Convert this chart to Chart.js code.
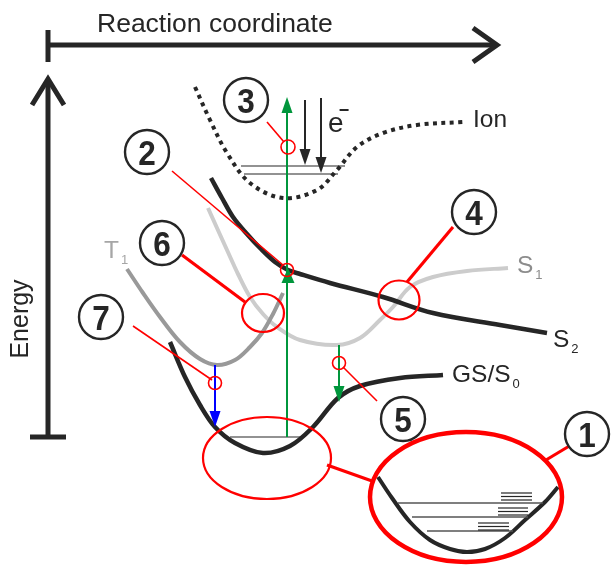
<!DOCTYPE html>
<html><head><meta charset="utf-8">
<script src="https://cdn.jsdelivr.net/npm/chart.js@4"></script>
<style>html,body{margin:0;padding:0;background:#fff;overflow:hidden}canvas{display:block}</style>
</head><body>
<canvas id="c" width="611" height="565"></canvas>
<script>
// ---- potential energy curves (reaction coordinate, energy; energy axis points down) ----
const groundState = [[170,342],[185,377],[200,405],[215,427],[235,443],[263,453],[290,446],[313,427],[338,398],[360,386],[400,378],[443,375]];
const tripletT1   = [[127,269],[143,293],[160,317],[180,342],[200,359],[217,365],[235,360],[250,347],[262,333],[273,314],[283,293]];
const singletS1   = [[208,208],[217,228],[227,250],[238,274],[250,297],[263,314],[277,327],[300,340],[337,345],[360,338],[380,320],[393,307],[410,287],[433,277],[467,271],[508,268]];
const singletS2   = [[211,178],[222,198],[233,217],[247,234],[260,248],[275,262],[288,270],[300,274],[330,283],[383,297],[433,313],[500,325],[547,333]];
const ionCurve    = [[195,87],[210,120],[227,153],[250,183],[283,198],[317,190],[337,170],[357,147],[383,133],[417,125],[463,122]];
const zoomedWell  = [[378,477],[392,498],[410,522],[430,540],[450,549],[467,552],[485,549],[505,538],[525,520],[545,502],[558,487]];

// ---- vibrational levels [x start, x end, energy] ----
const ionLevels   = [[241,345,166],[244,338,174]];
const gsLevels    = [[230,303,437]];
const zoomLevels  = [[398,543,503],[412,528,517],[427,513,531]];
const zoomStacks  = [[501,532,493],[501,532,496.5],[501,532,500],[498,528,508],[498,528,511.5],[498,528,515],[478,509,523],[478,509,526.5],[478,509,530]];

// ---- vertical transitions [x, from, to] ----
const excitation  = [[287,437,97]];
const electrons   = [[305,100,165],[321,98,173]];
const phosphor    = [[215,365,427]];
const internalConv= [[339,345,402]];
const crossingMark= [[288,283,268]];

// ---- highlighted points ----
const smallRings  = [[215,383],[339,363],[287,270],[288,147]];
const thinLeaders = [[267,122,284,142],[172,171,283,265],[133,326,212,380],[377,401,343,367]];
const thickLeaders= [[182,255,245,302],[453,227,407,282],[571,445,546,460],[327,465,372,481]];
const ringRegions = [[263,313,21,19],[399,300,20.5,19.5],[267,458,64,41]];
const zoomRegion  = [[466,497,96,65]];

// ---- numbered labels ----
const badgeText = ['1','2','3','4','5','6','7'];
const badgeX    = [587,147,246,474,403,162,101];
const badgeY    = [434,152,100,212,419,243,317];

// ---- curve labels ----
const curveLabels = ['Ion','S','S','GS/S','T','e'];
const curveSubs   = ['','1','2','0','1',''];
const curveLabelX = [473,517,553,452,104,328];
const curveLabelY = [127,273,347,382,258,132];

// ---- axes ----
const xAxisTitle = 'Reaction coordinate';
const yAxisTitle = 'Energy';
const xAxisLine = [[48,45],[497,45]];
const yAxisLine = [[48,437],[48,79]];

const BLACK = '#262626', RED = '#ff0000', GREEN = '#00963c', BLUE = '#0000ff';
const pts = a => a.map(p => ({x:p[0], y:p[1]}));

const datasets = [];
function addLine(data, color, width, extra) {
  datasets.push(Object.assign({data: data, borderColor: color, borderWidth: width, showLine: true,
    pointRadius: 0, fill: false, tension: 0, borderCapStyle: 'butt'}, extra || {}));
}
addLine(pts(singletS1), '#cccccc', 4, {tension: 0.35});
addLine(pts(tripletT1), '#999999', 4, {tension: 0.35});
addLine(pts(singletS2), BLACK, 4.5, {tension: 0.35});
addLine(pts(groundState), BLACK, 4.5, {tension: 0.35});
addLine(pts(ionCurve), BLACK, 4, {tension: 0.35, borderDash: [4, 4.5]});
addLine(pts(zoomedWell), BLACK, 4, {tension: 0.35});
ionLevels.concat(gsLevels).forEach(l => addLine([{x:l[0],y:l[2]},{x:l[1],y:l[2]}], BLACK, 1.2));
zoomLevels.forEach(l => addLine([{x:l[0],y:l[2]},{x:l[1],y:l[2]}], '#555', 1.3));
zoomStacks.forEach(l => addLine([{x:l[0],y:l[2]},{x:l[1],y:l[2]}], BLACK, 1.2));
const arrowSets = [[excitation, GREEN],[electrons, BLACK],[phosphor, BLUE],[internalConv, GREEN]];
arrowSets.forEach(([arr, col]) => arr.forEach(a => {
  const dir = Math.sign(a[2]-a[1]);
  addLine([{x:a[0],y:a[1]},{x:a[0],y:a[2]-dir*8}], col, 2);
}));
datasets.forEach((d, i) => d.order = datasets.length - i);

const overlay = {
  id: 'overlay',
  afterDatasetsDraw(chart) {
    const ctx = chart.ctx, sx = chart.scales.x, sy = chart.scales.y;
    const X = v => sx.getPixelForValue(v), Y = v => sy.getPixelForValue(v);
    ctx.save();
    // arrow heads
    function head(x, tip, dir, col, len, w) {
      ctx.fillStyle = col; ctx.beginPath();
      ctx.moveTo(X(x), Y(tip));
      ctx.lineTo(X(x) - w/2, Y(tip) - dir*len);
      ctx.lineTo(X(x) + w/2, Y(tip) - dir*len);
      ctx.closePath(); ctx.fill();
    }
    arrowSets.forEach(([arr, col]) => arr.forEach(a => head(a[0], a[2], Math.sign(a[2]-a[1]), col, 16, 11)));
    crossingMark.forEach(a => head(a[0], a[2], -1, GREEN, 15, 13));
    // red leaders
    ctx.strokeStyle = RED; ctx.lineCap = 'butt';
    ctx.lineWidth = 1.6;
    thinLeaders.forEach(l => { ctx.beginPath(); ctx.moveTo(X(l[0]),Y(l[1])); ctx.lineTo(X(l[2]),Y(l[3])); ctx.stroke(); });
    ctx.lineWidth = 3.2;
    thickLeaders.forEach(l => { ctx.beginPath(); ctx.moveTo(X(l[0]),Y(l[1])); ctx.lineTo(X(l[2]),Y(l[3])); ctx.stroke(); });
    ctx.lineWidth = 1.6;
    smallRings.forEach((r, i) => { ctx.beginPath(); ctx.arc(X(r[0]), Y(r[1]), i === 3 ? 7 : 6.5, 0, Math.PI*2); ctx.stroke(); });
    ctx.lineWidth = 2.2;
    ringRegions.forEach(e => { ctx.beginPath(); ctx.ellipse(X(e[0]), Y(e[1]), e[2], e[3], 0, 0, Math.PI*2); ctx.stroke(); });
    ctx.lineWidth = 4.5;
    zoomRegion.forEach(e => { ctx.beginPath(); ctx.ellipse(X(e[0]), Y(e[1]), e[2], e[3], 0, 0, Math.PI*2); ctx.stroke(); });
    // numbered badges
    badgeText.forEach((t, i) => {
      const cx = X(badgeX[i]), cy = Y(badgeY[i]);
      ctx.beginPath(); ctx.arc(cx, cy, 22, 0, Math.PI*2);
      ctx.fillStyle = '#fff'; ctx.fill();
      ctx.strokeStyle = BLACK; ctx.lineWidth = 2.4; ctx.stroke();
      ctx.save();
      ctx.translate(cx, cy + 12.5); ctx.scale(0.9, 1);
      ctx.fillStyle = BLACK; ctx.font = 'bold 35px "Liberation Sans", Arial, sans-serif';
      ctx.textAlign = 'center'; ctx.textBaseline = 'alphabetic';
      ctx.fillText(t, 0, 0);
      ctx.restore();
    });
    // curve labels
    ctx.textAlign = 'left'; ctx.textBaseline = 'alphabetic';
    curveLabels.forEach((t, i) => {
      const gray = (t === 'T') ? '#a6a6a6' : (t === 'S' && curveSubs[i] === '1') ? '#8c8c8c' : BLACK;
      ctx.fillStyle = gray;
      const size = t === 'e' ? 28 : 24.5;
      ctx.font = size + 'px "Liberation Sans", Arial, sans-serif';
      const x = X(curveLabelX[i]), y = Y(curveLabelY[i]);
      ctx.fillText(t, x, y);
      const w = ctx.measureText(t).width;
      if (curveSubs[i]) {
        ctx.font = '13px "Liberation Sans", Arial, sans-serif';
        ctx.fillText(curveSubs[i], x + w + 2, y + 6);
      }
      if (t === 'e') {
        ctx.fillRect(x + w - 4, y - 23, 9, 2);
      }
    });
    // axes
    ctx.strokeStyle = BLACK; ctx.fillStyle = BLACK;
    ctx.lineWidth = 5; ctx.lineCap = 'butt'; ctx.lineJoin = 'miter';
    const hx0 = X(xAxisLine[0][0]), hy = Y(xAxisLine[0][1]), hx1 = X(xAxisLine[1][0]);
    ctx.beginPath(); ctx.moveTo(hx0, hy); ctx.lineTo(hx1 - 2, hy); ctx.stroke();
    ctx.beginPath(); ctx.moveTo(hx0, hy - 15); ctx.lineTo(hx0, hy + 17); ctx.stroke();
    ctx.beginPath(); ctx.moveTo(hx1 - 24, hy - 17); ctx.lineTo(hx1, hy); ctx.lineTo(hx1 - 24, hy + 17); ctx.stroke();
    const vx = X(yAxisLine[0][0]), vy0 = Y(yAxisLine[0][1]), vy1 = Y(yAxisLine[1][1]);
    ctx.beginPath(); ctx.moveTo(vx, vy0); ctx.lineTo(vx, vy1 + 2); ctx.stroke();
    ctx.beginPath(); ctx.moveTo(vx - 18, vy0); ctx.lineTo(vx + 18, vy0); ctx.stroke();
    ctx.beginPath(); ctx.moveTo(vx - 16, vy1 + 26); ctx.lineTo(vx, vy1); ctx.lineTo(vx + 16, vy1 + 26); ctx.stroke();
    ctx.font = '26.5px "Liberation Sans", Arial, sans-serif';
    ctx.textAlign = 'left';
    ctx.fillText(xAxisTitle, X(97), Y(32));
    ctx.save();
    ctx.translate(X(28), Y(319)); ctx.rotate(-Math.PI/2);
    ctx.font = '25px "Liberation Sans", Arial, sans-serif';
    ctx.textAlign = 'center';
    ctx.fillText(yAxisTitle, 0, 0);
    ctx.restore();
    ctx.restore();
  }
};

new Chart(document.getElementById('c'), {
  type: 'scatter',
  data: { datasets: datasets },
  options: {
    responsive: false, animation: false, devicePixelRatio: 1,
    layout: { padding: 0 },
    plugins: { legend: { display: false }, tooltip: { enabled: false } },
    scales: {
      x: { type: 'linear', min: 0, max: 611, display: false },
      y: { type: 'linear', min: 0, max: 565, reverse: true, display: false }
    }
  },
  plugins: [overlay]
});
</script>
</body></html>
